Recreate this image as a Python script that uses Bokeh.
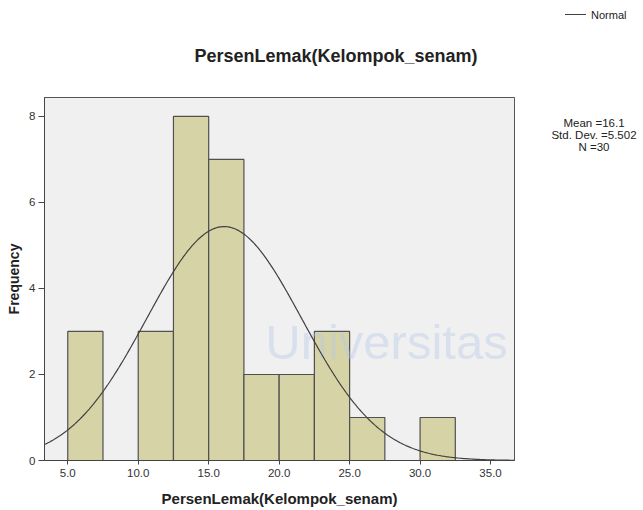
import numpy as np
from bokeh.plotting import figure
from bokeh.layouts import row
from bokeh.models import Title, NumeralTickFormatter, FixedTicker, Range1d, Div
from bokeh.core.properties import value
from bokeh.embed import file_html
from bokeh.resources import INLINE

# ---- data ----
bin_left = [5.0, 7.5, 10.0, 12.5, 15.0, 17.5, 20.0, 22.5, 25.0, 27.5, 30.0]
counts = [3, 0, 3, 8, 7, 2, 2, 3, 1, 0, 1]
bin_width = 2.5
mean_val = 16.1
std_val = 5.502
n_val = 30
x_ticks = [5, 10, 15, 20, 25, 30, 35]
y_ticks = [0, 2, 4, 6, 8]
title_text = "PersenLemak(Kelompok_senam)"
x_label = "PersenLemak(Kelompok_senam)"
y_label = "Frequency"
legend_label = "Normal"
watermark_text = "Universitas"
stats_lines = [f"Mean ={mean_val}", f"Std. Dev. ={std_val}", f"N ={n_val}"]

H = 510
W_MAIN = 515
W_SIDE = 128
FL, FR, FT, FB = 44, 514, 97, 460          # frame edges in page pixels
XMIN, XMAX, YMIN, YMAX = 3.35, 36.7, 0.0, 8.44


def px_x(px):
    return XMIN + (px - FL) / (FR - FL) * (XMAX - XMIN)


def px_y(py):
    return YMIN + (FB - py) / (FB - FT) * (YMAX - YMIN)


p = figure(width=W_MAIN, height=H, output_backend="svg", toolbar_location=None,
           x_range=Range1d(XMIN, XMAX), y_range=Range1d(YMIN, YMAX),
           min_border_left=FL, min_border_right=W_MAIN - FR, min_border_top=FT,
           min_border_bottom=H - FB)
p.background_fill_color = "#f0f0f0"
p.border_fill_color = "white"
p.outline_line_color = "#555555"
p.outline_line_width = 1
p.xgrid.visible = False
p.ygrid.visible = False

lefts = [b for b, c in zip(bin_left, counts) if c > 0]
tops = [c for c in counts if c > 0]
rights = [b + bin_width for b in lefts]
p.quad(left=lefts, right=rights, top=tops, bottom=0, fill_color="#d4d1a0", fill_alpha=0.92,
       line_color="#505050", line_width=1.2)

# faint watermark text (drawn over the bars, as in the reference)
p.text([px_x(386)], [px_y(341)], text=[watermark_text], text_align="center",
       text_baseline="middle", text_font=value("Liberation Sans"), text_font_size="49px",
       text_color="#b7c8e8", text_alpha=0.4)

xs = np.linspace(XMIN, XMAX, 400)
ys = n_val * bin_width * np.exp(-0.5 * ((xs - mean_val) / std_val) ** 2) / (std_val * np.sqrt(2 * np.pi))
p.line(xs, ys, line_color="#404040", line_width=1.2)

for ax in (p.xaxis[0], p.yaxis[0]):
    ax.axis_line_color = "#444444"
    ax.major_tick_line_color = "#444444"
    ax.minor_tick_line_color = None
    ax.major_tick_in = 0
    ax.major_label_text_font = "Liberation Sans"
    ax.major_label_text_font_size = "11.5px"
    ax.major_label_text_color = "#333333"
    ax.axis_label_text_font = "Liberation Sans"
    ax.axis_label_text_font_style = "bold"
    ax.axis_label_text_color = "#222222"

p.xaxis.ticker = FixedTicker(ticks=x_ticks)
p.xaxis.formatter = NumeralTickFormatter(format="0.0")
p.xaxis.axis_label = x_label
p.xaxis.axis_label_text_font_size = "15px"
p.xaxis.major_tick_out = 4
p.xaxis.major_label_standoff = 4
p.xaxis.axis_label_standoff = 10

p.yaxis.ticker = FixedTicker(ticks=y_ticks)
p.yaxis.axis_label = y_label
p.yaxis.axis_label_text_font_size = "14px"
p.yaxis.major_tick_out = 6
p.yaxis.major_label_standoff = 3
p.yaxis.axis_label_standoff = 4
p.yaxis.major_label_orientation = "horizontal"

p.title = Title(text=title_text, align="left", offset=150, standoff=64,
                text_font="Liberation Sans", text_font_style="bold",
                text_font_size="18px", text_color="#222222")

# ---- side panel: legend + statistics (HTML) ----
stats_html = "<br>".join(stats_lines)
side_html = f"""
<div style="position:relative;width:{W_SIDE}px;height:{H}px;overflow:hidden;
            font-family:'Liberation Sans',Arial,sans-serif;color:#222222;background:white;">
  <div style="position:absolute;left:50px;top:14px;width:21px;height:0;border-top:1px solid #404040;"></div>
  <div style="position:absolute;left:76px;top:8px;font-size:11px;line-height:14px;white-space:nowrap;">{legend_label}</div>
  <div style="position:absolute;left:30px;width:98px;top:117px;font-size:11.5px;line-height:12px;
              text-align:center;white-space:nowrap;">{stats_html}</div>
</div>
"""
side = Div(text=side_html, width=W_SIDE, height=H, styles={"margin": "0", "padding": "0"})

layout = row(p, side)
open("out.html", "w").write(file_html(layout, INLINE))
